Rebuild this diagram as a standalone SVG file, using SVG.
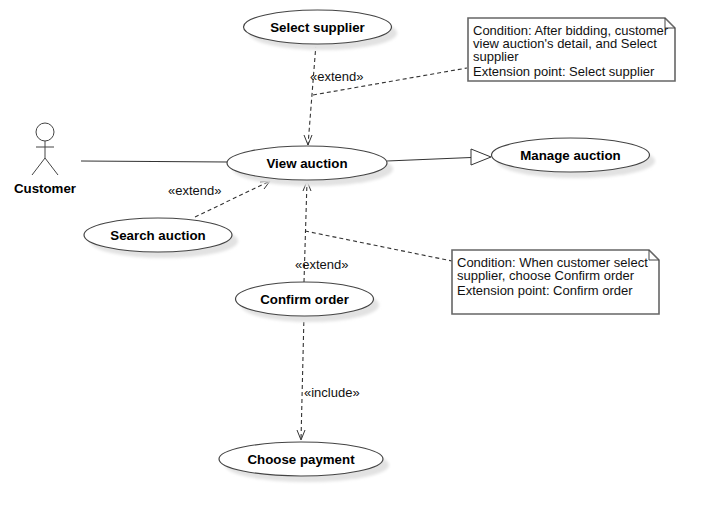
<svg xmlns="http://www.w3.org/2000/svg" width="716" height="516" viewBox="0 0 716 516">
<style>
.uc{fill:#fff;stroke:#444;stroke-width:1.2}
.sh{fill:#e2e2e2;filter:url(#b)}
.t{font-family:"Liberation Sans",Arial,sans-serif;font-size:13.3px;font-weight:bold;fill:#000;text-anchor:middle}
.l{font-family:"Liberation Sans",Arial,sans-serif;font-size:13px;fill:#111}
.n{fill:#fff;stroke:#666;stroke-width:1.6}
.f{fill:none;stroke:#444;stroke-width:1}
.d{fill:none;stroke:#333;stroke-width:1.1;stroke-dasharray:4 3}
.s{fill:none;stroke:#333;stroke-width:1.2}
.a{fill:none;stroke:#333;stroke-width:1}
</style>
<defs><filter id="b" x="-20%" y="-40%" width="140%" height="180%"><feGaussianBlur stdDeviation="1.5"/></filter></defs>
<rect width="716" height="516" fill="#fff"/>
<g id="connectors">
<path class="s" d="M81 161L228 162"/>
<path class="s" d="M387 161L471 157.500"/>
<path d="M471 149L491 157L471 165Z" fill="#fff" stroke="#333" stroke-width="1"/>
<path class="d" d="M316 44L308 145"/>
<path class="a" d="M304 135L308 145L312 135"/>
<path class="d" d="M313 95L467 68"/>
<path class="d" d="M195 217L270 181"/>
<path class="a" d="M260 182L270 181L264 189"/>
<path class="d" d="M304 282L307 181"/>
<path class="a" d="M303 191L307 181L311 191"/>
<path class="d" d="M305 231L452 261"/>
<path class="d" d="M304 315L301 440"/>
<path class="a" d="M297 430L301 440L305 430"/>
<text class="l" x="310" y="81">«extend»</text>
<text class="l" x="168" y="195">«extend»</text>
<text class="l" x="295" y="269">«extend»</text>
<text class="l" x="304" y="397">«include»</text>
</g>
<g id="select-supplier"><ellipse class="sh" cx="323" cy="33" rx="74" ry="17"/><ellipse class="uc" cx="317.500" cy="27" rx="74" ry="17"/><text class="t" x="317.500" y="32">Select supplier</text></g>
<g id="view-auction"><ellipse class="sh" cx="313" cy="169" rx="80" ry="17"/><ellipse class="uc" cx="307" cy="163" rx="80" ry="17"/><text class="t" x="307" y="168">View auction</text></g>
<g id="manage-auction"><ellipse class="sh" cx="576" cy="161" rx="79" ry="17"/><ellipse class="uc" cx="570.500" cy="155" rx="79" ry="17"/><text class="t" x="570.500" y="160">Manage auction</text></g>
<g id="search-auction"><ellipse class="sh" cx="164" cy="241" rx="74" ry="17"/><ellipse class="uc" cx="158" cy="235" rx="74" ry="17"/><text class="t" x="158" y="240">Search auction</text></g>
<g id="confirm-order"><ellipse class="sh" cx="310" cy="305" rx="69" ry="17"/><ellipse class="uc" cx="304.500" cy="299" rx="69" ry="17"/><text class="t" x="304.500" y="304">Confirm order</text></g>
<g id="choose-payment"><ellipse class="sh" cx="307" cy="465" rx="82" ry="17"/><ellipse class="uc" cx="301" cy="459" rx="82" ry="17"/><text class="t" x="301" y="464">Choose payment</text></g>
<g id="customer">
<circle cx="45" cy="132" r="9" fill="#fff" stroke="#444"/>
<path class="f" d="M45 141V158M36 147H54M45 158L32 175M45 158L58 175"/>
<text class="t" x="45" y="193">Customer</text>
</g>
<g id="note-select">
<path class="n" d="M468 18H665L675 28V81H468Z"/>
<path class="f" d="M665 18V28H675"/>
<text class="l"><tspan x="473" y="35">Condition: After bidding, customer</tspan><tspan x="473" y="48">view auction's detail, and Select</tspan><tspan x="473" y="61">supplier</tspan><tspan x="473" y="76">Extension point: Select supplier</tspan></text>
</g>
<g id="note-confirm">
<path class="n" d="M452 250H649L659 260V314H452Z"/>
<path class="f" d="M649 250V260H659"/>
<text class="l"><tspan x="457" y="267">Condition: When customer select</tspan><tspan x="457" y="280">supplier, choose Confirm order</tspan><tspan x="457" y="295">Extension point: Confirm order</tspan></text>
</g>
</svg>
